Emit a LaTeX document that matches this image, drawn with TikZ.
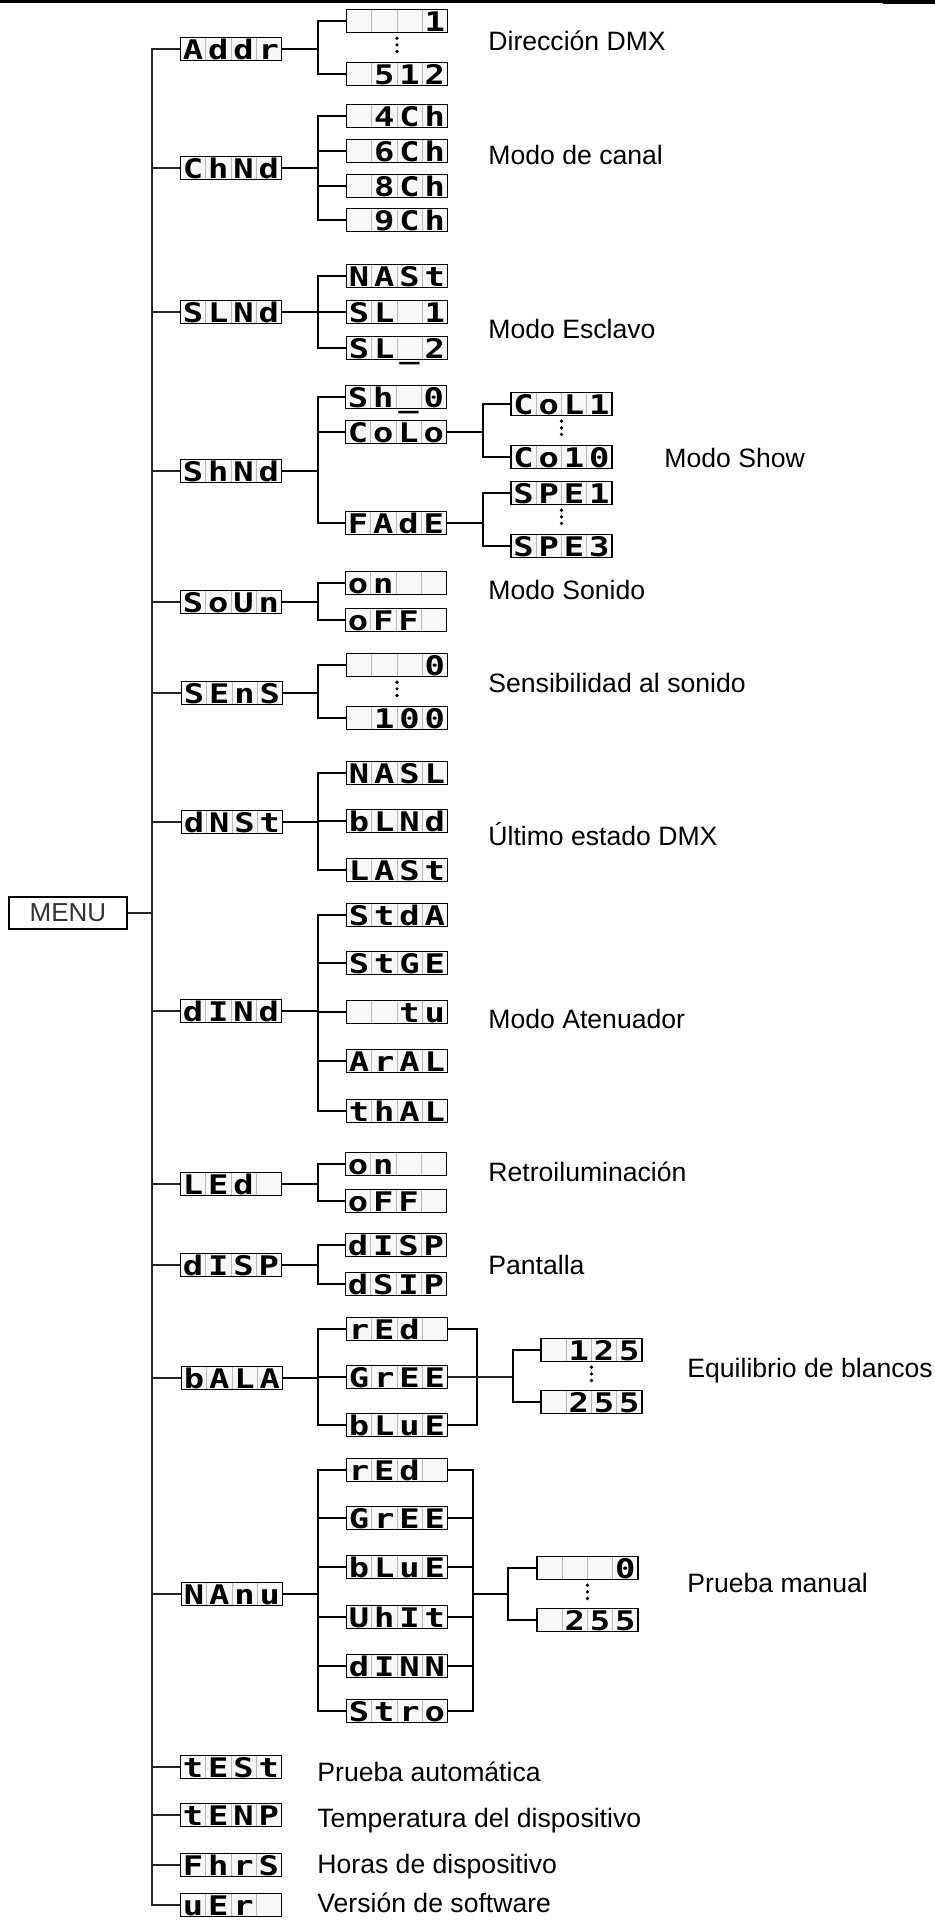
\documentclass[tikz,border=0pt]{standalone}
\usepackage{fontspec}
\setmainfont{Liberation Sans}
\newfontfamily\lcdface{DejaVu Sans Mono}[FakeStretch=1.25]
\usetikzlibrary{calc}

% one display: four cells of equal width
\newcommand{\lcd}[4]{\makebox[12.625pt]{#1}\makebox[12.625pt]{#2}\makebox[12.625pt]{#3}\makebox[12.625pt]{#4}}

\begin{document}
\begin{tikzpicture}[x=0.5pt, y=-0.5pt,
  lcd/.style={draw, line width=0.75pt, fill=gray!6, minimum width=50.5pt, minimum height=11.5pt,
    inner sep=0pt, text height=10.6pt, text depth=0pt,
    font=\lcdface\bfseries\fontsize{13.5}{13.5}\selectfont,
    path picture={\foreach \k in {1,2,3}{
      \draw[gray!55, line width=0.4pt]
        ($(path picture bounding box.south west)!\k/4!(path picture bounding box.south east)$) --
        ($(path picture bounding box.north west)!\k/4!(path picture bounding box.north east)$);}}},
  lbl/.style={anchor=base west, inner sep=0pt, font=\fontsize{13.3}{15}\selectfont},
  trunk/.style={line width=0.8pt, black!85},
  bar/.style={line width=1.4pt},
  dots/.style={line width=1.8pt, line cap=round, dash pattern=on 0pt off 3.3pt, shorten <=2.5pt, shorten >=2.5pt},
]
\useasboundingbox (0,0) rectangle (935,1921);

% top rule
\fill (0,0) rectangle (935,3);
\fill (883,0) rectangle (935,4.5);

% menu
\node[draw, line width=0.6pt, minimum width=59pt, minimum height=16pt, inner sep=0pt,
  font=\fontsize{13}{15}\selectfont, text=black!80] (menu) at (68,913) {MENU};
\coordinate (tk) at (152,0);
\coordinate (kx) at (318,0);
\coordinate (kc) at (483,0);
\coordinate (kb) at (477,0);
\coordinate (kw) at (513,0);
\coordinate (kn) at (473,0);
\coordinate (kt) at (508,0);

% first level
\node[lcd] (addr) at (231,49) {\lcd Addr};
\node[lcd] (chnd) at (231,168) {\lcd ChNd};
\node[lcd] (slnd) at (231,312) {\lcd SLNd};
\node[lcd] (shnd) at (231,471) {\lcd ShNd};
\node[lcd] (soun) at (231,602) {\lcd SoUn};
\node[lcd] (sens) at (232,693) {\lcd SEnS};
\node[lcd] (dnst) at (232,822) {\lcd dNSt};
\node[lcd] (dind) at (231,1011) {\lcd dINd};
\node[lcd] (led)  at (231,1184) {\lcd LEd{}};
\node[lcd] (disp) at (231,1265) {\lcd dISP};
\node[lcd] (bala) at (232,1378) {\lcd bALA};
\node[lcd] (nanu) at (232,1594) {\lcd NAnu};
\node[lcd] (test) at (231,1767) {\lcd tESt};
\node[lcd] (tenp) at (231,1815) {\lcd tENP};
\node[lcd] (fhrs) at (231,1865) {\lcd FhrS};
\node[lcd] (uer)  at (231,1905) {\lcd uEr{}};

% second level
\node[lcd] (a1) at (397,21) {\lcd{}{}{}1};
\node[lcd] (a2) at (397,74) {\lcd{}512};
\node[lcd] (c4) at (397,116) {\lcd{}4Ch};
\node[lcd] (c6) at (397,151) {\lcd{}6Ch};
\node[lcd] (c8) at (397,186) {\lcd{}8Ch};
\node[lcd] (c9) at (397,220) {\lcd{}9Ch};
\node[lcd] (s1) at (397,276) {\lcd NASt};
\node[lcd] (s2) at (397,312) {\lcd SL{}1};
\node[lcd] (s3) at (397,348) {\lcd SL\_2};
\node[lcd] (h0) at (396,397) {\lcd Sh\_0};
\node[lcd] (colo) at (396,432) {\lcd CoLo};
\node[lcd] (fade) at (396,523) {\lcd FAdE};
\node[lcd] (son)  at (396,583) {\lcd on{}{}};
\node[lcd] (soff) at (396,620) {\lcd oFF{}};
\node[lcd] (e0)   at (397,665) {\lcd{}{}{}0};
\node[lcd] (e100) at (397,718) {\lcd{}100};
\node[lcd] (d1) at (397,773) {\lcd NASL};
\node[lcd] (d2) at (397,821) {\lcd bLNd};
\node[lcd] (d3) at (397,870) {\lcd LASt};
\node[lcd] (m1) at (397,915) {\lcd StdA};
\node[lcd] (m2) at (397,963) {\lcd StGE};
\node[lcd] (m3) at (397,1012) {\lcd{}{}tu};
\node[lcd] (m4) at (397,1061) {\lcd ArAL};
\node[lcd] (m5) at (397,1111) {\lcd thAL};
\node[lcd] (lon)  at (396,1164) {\lcd on{}{}};
\node[lcd] (loff) at (396,1201) {\lcd oFF{}};
\node[lcd] (p1) at (396,1245) {\lcd dISP};
\node[lcd] (p2) at (396,1284) {\lcd dSIP};
\node[lcd] (br) at (397,1329) {\lcd rEd{}};
\node[lcd] (bg) at (397,1377) {\lcd GrEE};
\node[lcd] (bb) at (397,1425) {\lcd bLuE};
\node[lcd] (nr) at (397,1470) {\lcd rEd{}};
\node[lcd] (ng) at (397,1518) {\lcd GrEE};
\node[lcd] (nb) at (397,1567) {\lcd bLuE};
\node[lcd] (nw) at (397,1617) {\lcd UhIt};
\node[lcd] (nd) at (397,1666) {\lcd dINN};
\node[lcd] (ns) at (397,1711) {\lcd Stro};

% third level
\node[lcd] (col1)  at (561.5,404) {\lcd CoL1};
\node[lcd] (col10) at (561.5,457) {\lcd Co10};
\node[lcd] (spe1)  at (561.5,493) {\lcd SPE1};
\node[lcd] (spe3)  at (561.5,546) {\lcd SPE3};
\node[lcd] (w125)  at (591.5,1350) {\lcd{}125};
\node[lcd] (w255)  at (591.5,1402) {\lcd{}255};
\node[lcd] (t0)    at (587.5,1568) {\lcd{}{}{}0};
\node[lcd] (t255)  at (587.5,1620) {\lcd{}255};

% trunk
\draw[trunk] (addr.west) -- (addr.west -| tk) |- (uer.west);
\foreach \n in {chnd,slnd,shnd,soun,sens,dnst,dind,led,disp,bala,nanu,test,tenp,fhrs}
  \draw[trunk] (\n.west) -- (\n.west -| tk);
\draw[trunk] (menu.east) -- (menu.east -| tk);

% brackets
\foreach \n in {addr,chnd,slnd,shnd,soun,sens,dnst,dind,led,disp,bala,nanu}
  \draw[bar] (\n.east) -- (\n.east -| kx);
\foreach \a/\b in {a1/a2,c4/c9,s1/s3,h0/fade,son/soff,e0/e100,d1/d3,m1/m5,lon/loff,p1/p2,br/bb,nr/ns}
  \draw[bar] (\a.west) -- (\a.west -| kx) -- (\b.west -| kx) -- (\b.west);
\foreach \n in {c6,c8,s2,colo,d2,m2,m3,m4,bg,ng,nb,nw,nd}
  \draw[bar] (\n.west) -- (\n.west -| kx);

% show mode
\draw[bar] (colo.east) -- (colo.east -| kc);
\draw[bar] (col1.west) -- (col1.west -| kc) -- (col10.west -| kc) -- (col10.west);
\draw[bar] (fade.east) -- (fade.east -| kc);
\draw[bar] (spe1.west) -- (spe1.west -| kc) -- (spe3.west -| kc) -- (spe3.west);

% white balance
\draw[bar] (br.east) -- (br.east -| kb) -- (bb.east -| kb) -- (bb.east);
\draw[trunk] (bg.east) -- (bg.east -| kw);
\draw[bar] (w125.west) -- (w125.west -| kw) -- (w255.west -| kw) -- (w255.west);

% manual test
\draw[bar] (nr.east) -- (nr.east -| kn) -- (ns.east -| kn) -- (ns.east);
\foreach \n in {ng,nb,nw,nd}
  \draw[bar] (\n.east) -- (\n.east -| kn);
\draw[bar] (nanu.east -| kn) -- (nanu.east -| kt);
\draw[bar] (t0.west) -- (t0.west -| kt) -- (t255.west -| kt) -- (t255.west);

% ranges
\foreach \a/\b in {a1/a2,e0/e100,col1/col10,spe1/spe3,w125/w255,t0/t255}
  \draw[dots] (\a.south) -- (\b.north);

% labels
\node[lbl] (tdmx) at (488,51) {Dirección DMX};
\node[lbl] (tch)  at (488,165) {Modo de canal};
\node[lbl] (tsl)  at (488,338) {Modo Esclavo};
\node[lbl] (tsh)  at (664,467) {Modo Show};
\node[lbl] (tso)  at (488,599) {Modo Sonido};
\node[lbl] (tse)  at (488,692) {Sensibilidad al sonido};
\node[lbl] (tdn)  at (488,845) {Último estado DMX};
\node[lbl] (tdi)  at (488,1028) {Modo Atenuador};
\node[lbl] (tle)  at (488,1181) {Retroiluminación};
\node[lbl] (tdp)  at (488,1274) {Pantalla};
\node[lbl] (tba)  at (687,1377) {Equilibrio de blancos};
\node[lbl] (tna)  at (687,1592) {Prueba manual};
\node[lbl] (tte)  at (317,1781) {Prueba automática};
\node[lbl] (ttp)  at (317,1827) {Temperatura del dispositivo};
\node[lbl] (tfh)  at (317,1873) {Horas de dispositivo};
\node[lbl] (tue)  at (317,1912) {Versión de software};
\end{tikzpicture}
\end{document}
